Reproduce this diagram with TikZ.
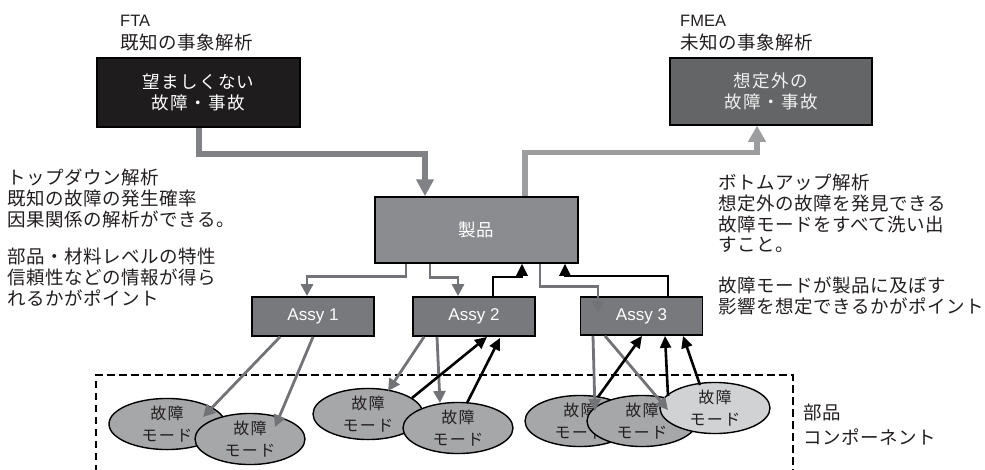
\documentclass[tikz,border=0pt]{standalone}
\usepackage{fontspec}
\setmainfont{Liberation Sans}
\newfontfamily\jp[LetterSpace=3]{Noto Sans CJK JP}
\newfontfamily\jpw[LetterSpace=8]{Noto Sans CJK JP}
\usetikzlibrary{arrows.meta,shapes.geometric,calc}
\definecolor{ftac}{HTML}{1E1C1D}
\definecolor{fmeac}{HTML}{646567}
\definecolor{prodc}{HTML}{8B8C8F}
\definecolor{assyc}{HTML}{78797C}
\definecolor{ellc}{HTML}{A6A7A9}
\definecolor{elllight}{HTML}{D1D2D4}
\definecolor{gline}{HTML}{727376}
\definecolor{bigdark}{HTML}{818285}
\definecolor{biglight}{HTML}{9C9D9F}
\definecolor{txt}{HTML}{231F20}
\begin{document}
\begin{tikzpicture}[x=1pt,y=-1pt,
  bigbox/.style={draw=black, line width=1.5pt, inner sep=0, align=center,
    font=\jpw\fontsize{17.5}{21.5}\selectfont, text=white},
  assy/.style={draw=black, line width=1.8pt, fill=assyc, minimum width=122pt,
    minimum height=39pt, inner sep=0, font=\fontsize{17}{20}\selectfont, text=white},
  fm/.style={ellipse, draw=black, line width=1.4pt, fill=ellc, inner sep=0,
    minimum width=110pt, minimum height=49pt, align=center,
    font=\jpw\fontsize{16}{22}\selectfont, text=txt},
  note/.style={align=left, inner sep=0, font=\jp\fontsize{18.5}{20.7}\selectfont, text=txt},
  lbl/.style={inner sep=0, anchor=west, text=txt},
  jlbl/.style={lbl, font=\jp\fontsize{18.5}{20.7}\selectfont},
  garrow/.style={draw=gline, line width=2.8pt, -{Triangle[length=12pt,width=12pt]}},
  barrow/.style={draw=black, line width=2.6pt, -{Triangle[length=12pt,width=11pt]}},
  bigdk/.style={draw=bigdark, line width=6pt, -{Triangle[length=17pt,width=17pt]}},
  biglt/.style={draw=biglight, line width=5.5pt, -{Triangle[length=16pt,width=17pt]}}
]
\useasboundingbox (0,0) rectangle (985,469);

% labels
\node[lbl, font=\fontsize{16.5}{20}\selectfont] (ftat) at (120,21) {FTA};
\node[jlbl] (ftas) at (120,42) {既知の事象解析};
\node[lbl, font=\fontsize{16.5}{20}\selectfont] (fmeat) at (680,21) {FMEA};
\node[jlbl] (fmeas) at (680,42) {未知の事象解析};

% top boxes
\node[bigbox, fill=ftac, minimum width=203pt, minimum height=69pt] (fta) at (198.5,92.5) {望ましくない\\故障・事故};
\node[bigbox, fill=fmeac, minimum width=202pt, minimum height=67pt, text=white!94!black] (fmea) at (771,91.5) {想定外の\\故障・事故};

% product
\node[draw=black, line width=1.5pt, fill=prodc, minimum width=203pt, minimum height=66pt,
  inner sep=0, text=white, font=\jp\fontsize{17.5}{20}\selectfont] (prod) at (476.5,230) {製品};

% assys
\node[assy] (a1) at (313,316.5) {Assy 1};
\node[assy] (a2) at (474,316.5) {Assy 2};
\node[assy, minimum height=38pt] (a3) at (641.5,316) {Assy 3};

% notes
\node[note, anchor=north west] (nl1) at (7,169) {トップダウン解析\\既知の故障の発生確率\\因果関係の解析ができる。};
\node[note, anchor=north west] (nl2) at (7,248) {部品・材料レベルの特性\\信頼性などの情報が得ら\\れるかがポイント};
\node[note, anchor=north west] (nr1) at (718,174) {ボトムアップ解析\\想定外の故障を発見できる\\故障モードをすべて洗い出\\すこと。};
\node[note, anchor=north west] (nr2) at (718,277) {故障モードが製品に及ぼす\\影響を想定できるかがポイント};

% dashed component area
\draw[line width=1.3pt, dash pattern=on 7.5pt off 4.5pt] (96,472) -- (96,375) -- (793,375) -- (793,472);
\node[jlbl] (buhin) at (803,413) {部品};
\node[jlbl] (comp) at (803,437) {コンポーネント};

% failure modes
\node[fm, minimum width=116pt, minimum height=51pt] (e1) at (167,424) {故障\\モード};
\node[fm] (e2) at (250,439) {故障\\モード};
\node[fm] (e3) at (368,414) {故障\\モード};
\node[fm] (e4) at (458,428) {故障\\モード};
\node[fm] (e5) at (580,421) {故障\\モード};
\node[fm] (e6) at (642,421) {故障\\モード};
\node[fm, fill=elllight] (e7) at (715,408) {故障\\モード};

% big arrows
\draw[bigdk] (fta.south) -- ($(fta.south)+(0,26)$) -| ($(prod.north)+(-51.5,0)$);
\draw[biglt] ($(prod.north)+(48.5,0)$) -- ($(prod.north)+(48.5,-44)$) -| ($(fmea.south)+(-14,0)$);

% product to assy
\draw[garrow] ($(prod.south)+(-70.5,0)$) -- ($(prod.south)+(-70.5,13)$) -| ($(a1.north)+(-6,0)$);
\draw[garrow] ($(prod.south)+(-46.5,0)$) -- ($(prod.south)+(-46.5,14)$) -| ($(a2.north)+(-16,0)$);
\draw[garrow] ($(prod.south)+(63.5,0)$) -- ($(prod.south)+(63.5,23)$) -| ($(a3.center)+(-43.5,-3)$);
\draw[barrow] ($(a2.north)+(19,0)$) -- ($(a2.north)+(19,-19)$) -| ($(prod.south)+(45.5,0)$);
\draw[barrow] ($(a3.north)+(26.5,0)$) -- ($(a3.north)+(26.5,-20)$) -| ($(prod.south)+(88.5,0)$);

% assy to failure modes
\draw[garrow] ($(a1.south)+(-33,0)$) -- ($(e1.center)+(36,-7)$);
\draw[garrow] (a1.south) -- ($(e2.center)+(25,-12)$);
\draw[garrow] ($(a2.south)+(-50,0)$) -- ($(e3.center)+(20,-23)$);
\draw[garrow] ($(a2.south)+(-37,0)$) -- ($(e4.center)+(-18,-25)$);
\draw[barrow] ($(e3.center)+(44,-16)$) -- ($(a2.south)+(13,0)$);
\draw[barrow] ($(e4.center)+(9,-25)$) -- ($(a2.south)+(26,1)$);
\draw[garrow] ($(a3.south)+(-48.5,0)$) -- ($(e5.center)+(15,-10)$);
\draw[garrow] ($(a3.south)+(-36.5,0)$) -- ($(e6.center)+(26,-11)$);
\draw[barrow] ($(e5.center)+(18,-24)$) -- ($(a3.south)+(0.5,0)$);
\draw[barrow] ($(e6.center)+(26,-25)$) -- ($(a3.south)+(23.5,0)$);
\draw[barrow] ($(e7.center)+(-15,-23)$) -- ($(a3.south)+(41.5,0)$);
\end{tikzpicture}
\end{document}
